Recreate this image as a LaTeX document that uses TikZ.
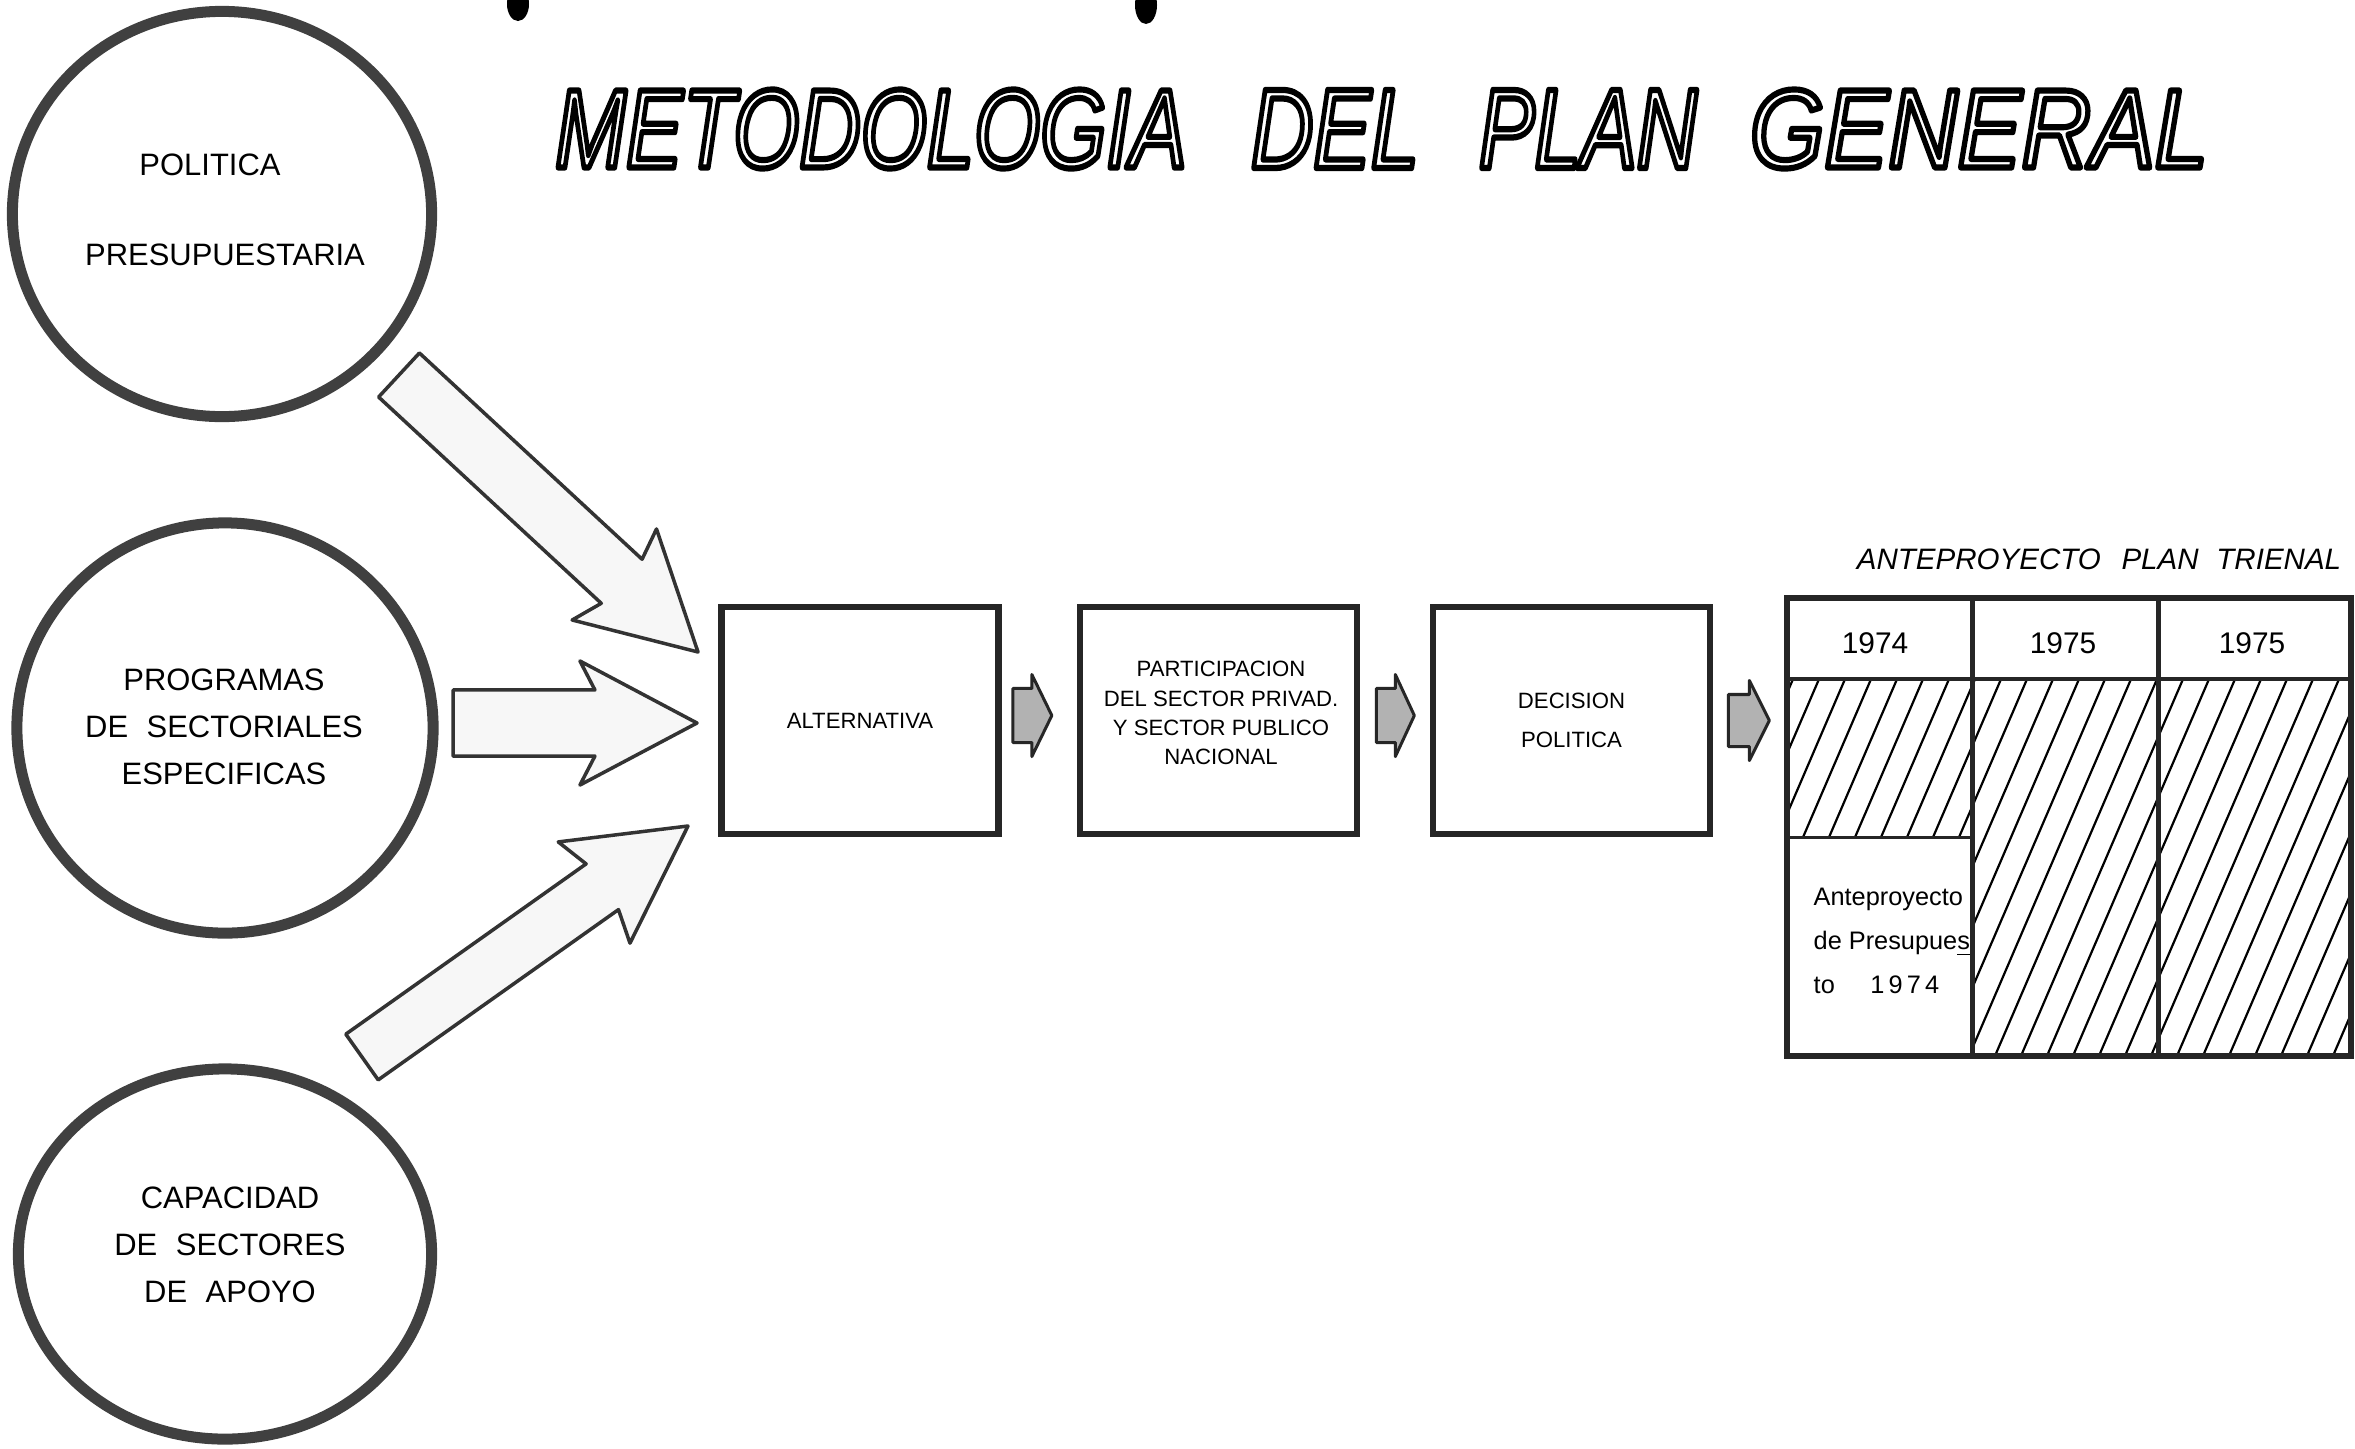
\documentclass[tikz,border=0pt]{standalone}
\usepackage{fontspec}
\setmainfont{Liberation Sans}
\usetikzlibrary{shapes.geometric,calc}
% block arrow: style, tail, tip, shaft half width, head half width, head length, sweep
\newcommand\blockarrow[7]{%
  \coordinate (J) at ($(#3)!#6!(#2)$);
  \coordinate (K) at ($(#3)!#6+#7!(#2)$);
  \draw[#1] ($(#2)!#4!90:(#3)$)
    -- ($(J)!#4!-90:(#2)$)
    -- ($(K)!#5!-90:(#2)$)
    -- (#3)
    -- ($(K)!#5!90:(#2)$)
    -- ($(J)!#4!90:(#2)$)
    -- ($(#2)!#4!-90:(#3)$) -- cycle;
}
\newcommand\titleword[1]{\fontsize{31}{31}\selectfont\itshape\special{pdf:literal direct 1 Tr 1.7 w 1 j}#1\special{pdf:literal direct 0 Tr 0 j}}
\begin{document}
\begin{tikzpicture}[x=0.01cm,y=-0.01cm,
  ring/.style={ellipse, draw=black!75, line width=0.11cm, inner sep=0pt},
  ctext/.style={font=\fontsize{8.8}{13.4}\selectfont, align=center, inner sep=0pt},
  pbox/.style={draw=black!85, line width=0.065cm, minimum width=2.77cm, minimum height=2.265cm, inner sep=0pt, align=center, font=\fontsize{6.3}{8.3}\selectfont},
  bigarr/.style={draw=black!80, line width=0.035cm, fill=black!3, line join=round},
  smallarr/.style={draw=black!85, line width=0.03cm, fill=black!30, line join=round},
  tline/.style={draw=black!85, line width=0.06cm},
  hatch/.style={black, line width=0.022cm},
  ttext/.style={inner sep=0pt, font=\fontsize{8.5}{10}\selectfont},
  titlew/.style={inner sep=0pt},
]
\useasboundingbox (0,0) rectangle (2355,1448);
\fill[white] (0,0) rectangle (2355,1448);

% punch marks at top edge
\fill[black] (518,4) ellipse [x radius=11, y radius=17];
\fill[black] (1146,5) ellipse [x radius=11, y radius=19];

% title (outlined letters)
\node[titlew] (tw1) at (871,129) {\resizebox{6.31cm}{0.78cm}{\titleword{METODOLOGIA}}};
\node[titlew] (tw2) at (1335,129) {\resizebox{1.68cm}{0.78cm}{\titleword{DEL}}};
\node[titlew] (tw3) at (1588,129) {\resizebox{2.18cm}{0.78cm}{\titleword{PLAN}}};
\node[titlew] (tw4) at (1979,129) {\resizebox{4.58cm}{0.78cm}{\titleword{GENERAL}}};

% circles
\node[ring, minimum width=4.19cm, minimum height=4.05cm] (c1) at (222,214) {};
\node[ring, minimum width=4.16cm, minimum height=4.10cm] (c2) at (225,728) {};
\node[ring, minimum width=4.13cm, minimum height=3.70cm] (c3) at (225,1254) {};
\node[ctext] (c1a) at (210,165) {POLITICA};
\node[ctext] (c1b) at (225,255) {PRESUPUESTARIA};
\node[ctext] (c2t) at (224,727) {PROGRAMAS\\DE\hspace{0.6em}SECTORIALES\\ESPECIFICAS};
\node[ctext] (c3t) at (230,1245) {CAPACIDAD\\DE\hspace{0.6em}SECTORES\\DE\hspace{0.6em}APOYO};

% process boxes
\node[pbox] (b1) at (860,720.5) {ALTERNATIVA};
\node[pbox] (b2) at (1218.5,720.5) {};
\node[inner sep=0pt, align=center, font=\fontsize{6.3}{8.3}\selectfont] (b2t) at (1221,713) {PARTICIPACION\\DEL SECTOR PRIVAD.\\Y SECTOR PUBLICO\\NACIONAL};
\node[pbox, font=\fontsize{6.3}{11.1}\selectfont] (b3) at (1571.5,720.5) {DECISION\\POLITICA};

% big input arrows
\coordinate (a1s) at (399,375);
\coordinate (a1e) at (698,652);
\coordinate (a2s) at (453,723);
\coordinate (a2e) at (697,723);
\coordinate (a3s) at (362,1057);
\coordinate (a3e) at (688,826);
\blockarrow{bigarr}{a1s}{a1e}{0.30cm}{0.62cm}{1.04cm}{0.10cm}
\blockarrow{bigarr}{a2s}{a2e}{0.33cm}{0.62cm}{1.02cm}{0.15cm}
\blockarrow{bigarr}{a3s}{a3e}{0.28cm}{0.62cm}{1.05cm}{0.10cm}

% small arrows between boxes
\coordinate (s1s) at ($(b1.east)+(11,-5)$);
\coordinate (s1e) at ($(b1.east)+(50,-5)$);
\coordinate (s2s) at ($(b2.east)+(16,-5)$);
\coordinate (s2e) at ($(b2.east)+(54,-5)$);
\coordinate (s3s) at ($(b3.east)+(15,0)$);
\coordinate (s3e) at ($(b3.east)+(56,0)$);
\blockarrow{smallarr}{s1s}{s1e}{0.27cm}{0.41cm}{0.20cm}{0cm}
\blockarrow{smallarr}{s2s}{s2e}{0.27cm}{0.41cm}{0.19cm}{0cm}
\blockarrow{smallarr}{s3s}{s3e}{0.26cm}{0.40cm}{0.20cm}{0cm}

% table
\node[inner sep=0pt, font=\fontsize{8.4}{10}\selectfont\itshape] (ttl) at (2099,559) {ANTEPROYECTO\hspace{0.7em}PLAN\hspace{0.6em}TRIENAL};
\begin{scope}
  \clip (1787,679) rectangle (1972,837) (1972,679) rectangle (2351,1056);
  \foreach \i in {0,...,32} {
    \draw[hatch] (1560+\i*26,1100) -- ++(215,-500);
  }
\end{scope}
\draw[tline] (1787,598) rectangle (2351,1056);
\draw[tline, line width=0.05cm] (1972,598) -- (1972,1056);
\draw[tline, line width=0.05cm] (2158,598) -- (2158,1056);
\draw[tline, line width=0.04cm] (1787,679) -- (2351,679);
\draw[tline, line width=0.03cm] (1787,837) -- (1972,837);
\node[ttext] (y1) at (1875,643) {1974};
\node[ttext] (y2) at (2063,643) {1975};
\node[ttext] (y3) at (2252,643) {1975};
\node[inner sep=0pt, anchor=west, align=left, font=\fontsize{7.2}{12.5}\selectfont] (ap) at (1813,941) {Anteproyecto\\de Presupue\underline{s}\\to\hspace{1.4em}1\,9\,7\,4};
\end{tikzpicture}
\end{document}
